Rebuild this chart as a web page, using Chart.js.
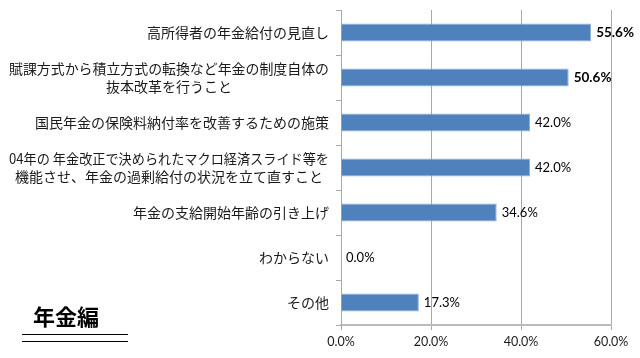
<!DOCTYPE html>
<html>
<head>
<meta charset="utf-8">
<script src="https://cdn.jsdelivr.net/npm/chart.js@4.4.0/dist/chart.umd.min.js"></script>
<style>
  html, body { margin: 0; padding: 0; background: #fff; }
  #wrap { position: relative; width: 640px; height: 358px; }
  #title {
    position: absolute; left: 22px; top: 300px; width: 106px;
    font: bold 22px "Noto Sans CJK JP", sans-serif; color: #000;
    padding-left: 11px; box-sizing: border-box; line-height: 30px;
  }
  .rule { position: absolute; left: 22px; width: 106px; height: 1px; background: #000; }
</style>
</head>
<body>
<div id="wrap">
  <canvas id="chart" width="640" height="358"></canvas>
  <div id="title">年金編</div>
  <div class="rule" style="top:334px"></div>
  <div class="rule" style="top:341px"></div>
</div>
<script>
// データ
const categories = [
  ['高所得者の年金給付の見直し'],
  ['賦課方式から積立方式の転換など年金の制度自体の', '抜本改革を行うこと'],
  ['国民年金の保険料納付率を改善するための施策'],
  ['04年の 年金改正で決められたマクロ経済スライド等を', '機能させ、年金の過剰給付の状況を立て直すこと'],
  ['年金の支給開始年齢の引き上げ'],
  ['わからない'],
  ['その他']
];
const values = [55.6, 50.6, 42.0, 42.0, 34.6, 0.0, 17.3];
const boldLabels = [true, true, false, false, false, false, false];
const xTicks = [0, 20, 40, 60];

// 左側のラベル（複数行は中央揃え）
const yLabelPlugin = {
  id: 'yLabels',
  afterDraw(chart) {
    const ctx = chart.ctx;
    const y = chart.scales.y;
    const right = 329;
    const maxW = 320;
    ctx.save();
    ctx.font = '14px "Noto Sans CJK JP", sans-serif';
    ctx.fillStyle = '#1a1a1a';
    ctx.textBaseline = 'middle';
    ctx.textAlign = 'center';
    categories.forEach((lines, i) => {
      const cy = y.getPixelForValue(i);
      const w = Math.min(maxW, Math.max(...lines.map(l => ctx.measureText(l).width)));
      const cx = right - w / 2;
      const lh = 18;
      lines.forEach((l, j) => {
        ctx.fillText(l, cx, cy + (j - (lines.length - 1) / 2) * lh, maxW);
      });
    });
    ctx.restore();
  }
};

// 値ラベル
const valueLabelPlugin = {
  id: 'valueLabels',
  afterDatasetsDraw(chart) {
    const ctx = chart.ctx;
    const meta = chart.getDatasetMeta(0);
    ctx.save();
    ctx.textBaseline = 'middle';
    ctx.textAlign = 'left';
    ctx.fillStyle = '#000';
    meta.data.forEach((bar, i) => {
      ctx.font = (boldLabels[i] ? 'bold 13.5px' : '13px') + ' Lato, sans-serif';
      ctx.fillText(values[i].toFixed(1) + '%', bar.x + 5, bar.y);
    });
    ctx.restore();
  }
};

new Chart(document.getElementById('chart'), {
  type: 'bar',
  data: {
    labels: categories,
    datasets: [{
      data: values,
      backgroundColor: '#4f81bd',
      borderColor: '#8db0dc',
      borderWidth: 1,
      barPercentage: 0.4,
      categoryPercentage: 1
    }]
  },
  options: {
    indexAxis: 'y',
    responsive: false,
    animation: false,
    layout: { padding: { top: 10, right: 29, bottom: 0, left: 0 } },
    plugins: { legend: { display: false }, tooltip: { enabled: false } },
    scales: {
      x: {
        min: 0, max: 60,
        afterBuildTicks: s => { s.ticks = xTicks.map(v => ({ value: v })); },
        afterFit: s => { s.height = 33; },
        ticks: {
          color: '#1a1a1a',
          font: { family: 'Lato', size: 12.5 },
          padding: 4,
          callback: v => v.toFixed(1) + '%'
        },
        grid: { color: '#a8a8a8', lineWidth: 1, tickLength: 5 },
        border: { color: '#bcbcbc', width: 2 }
      },
      y: {
        afterFit: s => { s.width = 341; },
        ticks: { display: false },
        grid: { drawOnChartArea: false, offset: true, tickLength: 5, color: '#a8a8a8' },
        border: { color: '#a8a8a8', width: 1 }
      }
    }
  },
  plugins: [yLabelPlugin, valueLabelPlugin]
});
</script>
</body>
</html>
